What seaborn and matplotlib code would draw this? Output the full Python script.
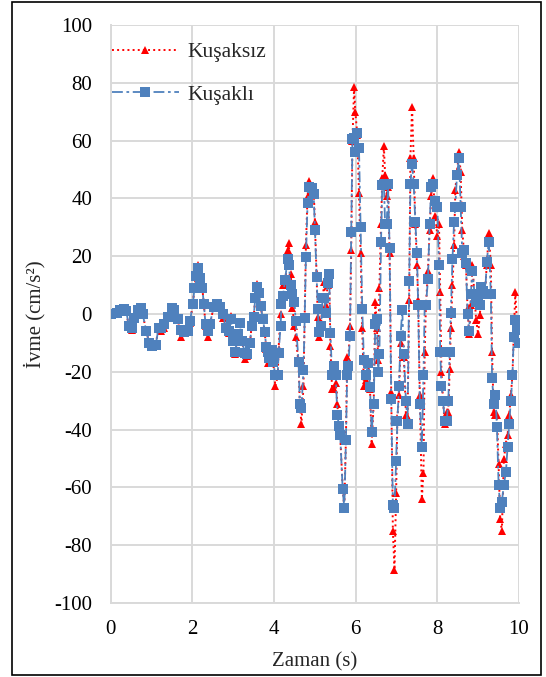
import matplotlib
matplotlib.use("Agg")
import matplotlib.pyplot as plt
import seaborn as sns
from matplotlib.patches import Rectangle

# time (s)
zaman = [0.00, 0.15, 0.23, 0.32, 0.38, 0.44, 0.51, 0.57, 0.66, 0.73,
         0.78, 0.87, 0.94, 1.02, 1.10, 1.17, 1.23, 1.31, 1.41, 1.49,
         1.55, 1.64, 1.71, 1.79, 1.89, 1.94, 2.01, 2.05, 2.08, 2.13,
         2.19, 2.24, 2.28, 2.32, 2.38, 2.43, 2.52, 2.59, 2.68, 2.75,
         2.82, 2.90, 2.94, 3.00, 3.05, 3.11, 3.16, 3.22, 3.28, 3.34,
         3.41, 3.45, 3.50, 3.54, 3.58, 3.63, 3.67, 3.73, 3.77, 3.81,
         3.84, 3.87, 3.94, 3.98, 4.03, 4.09, 4.11, 4.16, 4.18, 4.22,
         4.27, 4.33, 4.36, 4.41, 4.45, 4.50, 4.53, 4.60, 4.63, 4.67,
         4.72, 4.75, 4.78, 4.82, 4.86, 4.92, 4.97, 5.00, 5.04, 5.07,
         5.10, 5.15, 5.19, 5.23, 5.27, 5.31, 5.35, 5.38, 5.42, 5.47,
         5.51, 5.55, 5.59, 5.62, 5.68, 5.72, 5.76, 5.79, 5.82, 5.86,
         5.89, 5.92, 5.96, 5.99, 6.04, 6.08, 6.12, 6.16, 6.20, 6.25,
         6.31, 6.35, 6.39, 6.44, 6.48, 6.52, 6.55, 6.58, 6.62, 6.65,
         6.69, 6.72, 6.76, 6.79, 6.83, 6.87, 6.91, 6.95, 6.99, 7.02,
         7.06, 7.10, 7.14, 7.18, 7.23, 7.27, 7.31, 7.34, 7.38, 7.42,
         7.46, 7.50, 7.53, 7.57, 7.62, 7.66, 7.69, 7.72, 7.77, 7.81,
         7.85, 7.89, 7.95, 8.00, 8.04, 8.07, 8.10, 8.14, 8.18, 8.23,
         8.27, 8.30, 8.33, 8.37, 8.41, 8.44, 8.48, 8.53, 8.57, 8.61,
         8.66, 8.70, 8.74, 8.78, 8.82, 8.86, 8.91, 8.95, 9.00, 9.04,
         9.08, 9.13, 9.17, 9.21, 9.26, 9.31, 9.34, 9.38, 9.42, 9.46,
         9.50, 9.54, 9.58, 9.63, 9.68, 9.72, 9.76, 9.80, 9.84, 9.87,
         9.91, 9.95, 10.00]

# acceleration without belt (cm/s2)
kusaksiz = [0.0, 0.3, 1.5, 1.8, 1.0, -4.5, -5.5, -1.5, 1.5, 2.3,
            0.0, -6.0, -10.0, -11.0, -10.5, -4.8, -6.0, -5.0, -1.0, 2.5,
            1.5, -2.0, -8.0, -6.5, -6.0, -3.0, 3.5, 9.0, 13.0, 17.0,
            12.5, 9.0, 3.5, -4.0, -8.0, -3.5, 2.4, 3.5, 2.4, -1.5,
            -4.8, -6.5, -0.7, -9.5, -14.0, -7.0, -3.0, -9.5, -15.5, -14.5,
            -10.0, -4.0, -1.0, 5.5, 10.5, 7.5, 2.5, -2.0, -6.5, -12.0,
            -17.0, -15.5, -12.5, -17.0, -25.0, -21.5, -12.0, 0.0, 3.5, 10.0,
            10.0, 22.0, 24.5, 14.0, 2.0, -4.0, -8.0, -17.0, -31.0, -38.0,
            -25.0, -1.5, 24.0, 41.0, 46.0, 44.0, 43.0, 32.0, 14.0, -1.0,
            -8.0, -4.0, 5.5, 11.0, 3.0, 10.0, 13.0, -11.0, -26.0, -26.0,
            -24.0, -31.0, -40.0, -42.0, -60.0, -67.0, -43.0, -15.0, -16.0, -4.0,
            22.0, 60.0, 78.5, 70.0, 62.0, 42.0, 21.0, -5.0, -25.0, -23.0,
            -17.0, -26.0, -45.0, -31.0, 4.0, -5.0, -16.0, 9.0, 31.0, 47.0,
            58.0, 48.0, 41.0, 44.0, 21.0, -27.0, -75.0, -88.5, -62.0, -36.0,
            -28.0, -10.0, -14.0, -15.0, -35.0, -36.0, 5.0, 54.0, 71.5, 54.0,
            31.0, 17.0, 5.0, -28.0, -64.0, -55.0, -13.0, 3.0, 15.0, 29.0,
            41.0, 47.0, 34.0, 27.0, 31.0, 7.5, -20.0, -30.0, -38.0, -34.0,
            -34.0, -19.0, -5.0, 10.0, 24.0, 43.0, 49.0, 56.0, 49.0, 29.0,
            20.0, 17.0, 2.0, -7.0, 3.0, 17.0, 6.0, -2.0, -7.0, -0.5,
            7.0, 9.0, 8.0, 17.0, 28.0, 17.0, -13.0, -34.0, -35.0, -35.0,
            -52.0, -71.0, -75.0, -50.0, -45.0, -42.0, -35.0, -28.0, -21.0, -8.0,
            7.5, -3.0, -5.0]

# acceleration with belt (cm/s2)
kusakli = [0.0, 0.3, 1.5, 1.8, 1.0, -4.0, -4.8, -1.5, 1.5, 2.0,
           0.0, -6.0, -10.0, -11.0, -10.8, -4.8, -5.0, -3.6, -1.0, 2.0,
           1.5, -1.8, -5.5, -6.3, -6.0, -2.5, 3.5, 9.0, 13.0, 16.0,
           12.4, 9.0, 3.5, -3.6, -6.0, -3.3, 2.4, 3.4, 2.4, 0.0,
           -4.8, -6.0, -1.8, -9.3, -13.0, -7.0, -3.0, -9.3, -13.5, -14.0,
           -10.0, -4.0, -1.0, 5.7, 9.4, 7.2, 2.7, -1.8, -6.3, -11.5,
           -13.0, -15.3, -12.3, -16.5, -21.2, -21.0, -13.5, -4.0, 3.4, 6.4,
           11.7, 19.1, 17.0, 10.0, 7.0, 4.2, -2.5, -16.5, -31.0, -32.5,
           -19.3, -1.5, 19.7, 38.3, 44.0, 43.5, 41.4, 29.2, 12.7, 1.8,
           -6.3, -4.3, 5.7, 5.7, 0.3, 10.8, 14.0, -6.7, -21.0, -18.0,
           -21.2, -35.0, -38.7, -42.0, -60.6, -67.2, -43.7, -21.0, -18.0, -7.5,
           28.4, 60.6, 61.0, 56.0, 62.5, 57.3, 30.0, 1.8, -16.0, -21.0,
           -16.8, -25.3, -41.0, -31.0, -3.3, -1.8, -20.0, -14.0, 25.0, 44.6,
           45.0, 31.0, 31.0, 45.0, 23.0, -29.5, -66.0, -67.0, -50.8, -37.0,
           -25.0, -7.5, 1.5, -14.0, -30.0, -38.0, 11.4, 45.0, 52.0, 45.0,
           32.0, 21.0, 3.0, -31.0, -46.0, -21.0, 3.0, 3.0, 12.0, 31.0,
           44.0, 45.0, 39.0, 37.0, 17.0, -13.0, -25.0, -30.0, -37.0, -37.0,
           -30.0, -13.0, 0.5, 19.0, 32.0, 37.0, 48.0, 54.0, 37.0, 21.0,
           22.0, 17.5, 0.0, -6.0, 7.0, 15.0, 7.0, 4.0, 5.0, 3.0,
           9.4, 8.0, 7.0, 18.0, 25.0, 7.0, -22.0, -31.0, -28.0, -39.0,
           -59.0, -67.0, -65.0, -59.0, -54.6, -46.0, -38.0, -30.0, -21.0, -8.0,
           -2.0, -5.5, -10.0]

x_ticks = [0, 2, 4, 6, 8, 10]
y_ticks = [-100, -80, -60, -40, -20, 0, 20, 40, 60, 80, 100]

sns.set_style("white")
plt.rcParams['font.family'] = ['Liberation Serif', 'DejaVu Serif']
plt.rcParams['axes.unicode_minus'] = False

W, H = 546, 677
fig = plt.figure(figsize=(W / 100, H / 100), dpi=100)
ax = fig.add_axes([110.8 / W, 1 - 603 / H, (519 - 110.8) / W, (603 - 25) / H])

sns.lineplot(x=zaman, y=kusaksiz, ax=ax, color='#ff0000', linestyle=':',
             linewidth=1.4, marker='^', markersize=5.5, markeredgewidth=0,
             label='Kuşaksız', estimator=None, sort=False, zorder=3)
sns.lineplot(x=zaman, y=kusakli, ax=ax, color='#4f81bd',
             linestyle=(0, (6, 2, 1.5, 2)), linewidth=1.3, marker='s',
             markersize=6.8, markeredgewidth=0, label='Kuşaklı',
             estimator=None, sort=False, zorder=4)

grid_c = '#d9d9d9'
ax.set_xlim(0, 10)
ax.set_ylim(-100, 100)
ax.set_xticks(x_ticks)
ax.set_yticks(y_ticks)
ax.grid(True, color=grid_c, linewidth=1.4)
ax.set_axisbelow(True)
for s in ['top', 'right']:
    ax.spines[s].set_visible(False)
for s in ['left', 'bottom']:
    ax.spines[s].set_color(grid_c)
    ax.spines[s].set_linewidth(1.4)
ax.tick_params(direction='out', length=4.5, width=1.4, color=grid_c,
               labelsize=15, labelcolor='black')
ax.tick_params(axis='y', pad=9)
ax.tick_params(axis='x', pad=7.5)

ax.set_xlabel('Zaman (s)', fontsize=15, labelpad=10)
ax.set_ylabel('İvme (cm/s²)', fontsize=15, labelpad=6)

ax.legend(loc='upper left', bbox_to_anchor=(0.003, 0.97), frameon=False,
          fontsize=15.5, handlelength=3.1, handletextpad=0.42,
          labelspacing=1.04, borderaxespad=0, borderpad=0, numpoints=1)

fig.add_artist(Rectangle((12 / W, 2 / H), 529 / W, 673 / H,
                         transform=fig.transFigure, fill=False,
                         edgecolor='black', linewidth=1.2))

fig.savefig('out.png', dpi=100)
plt.close()
